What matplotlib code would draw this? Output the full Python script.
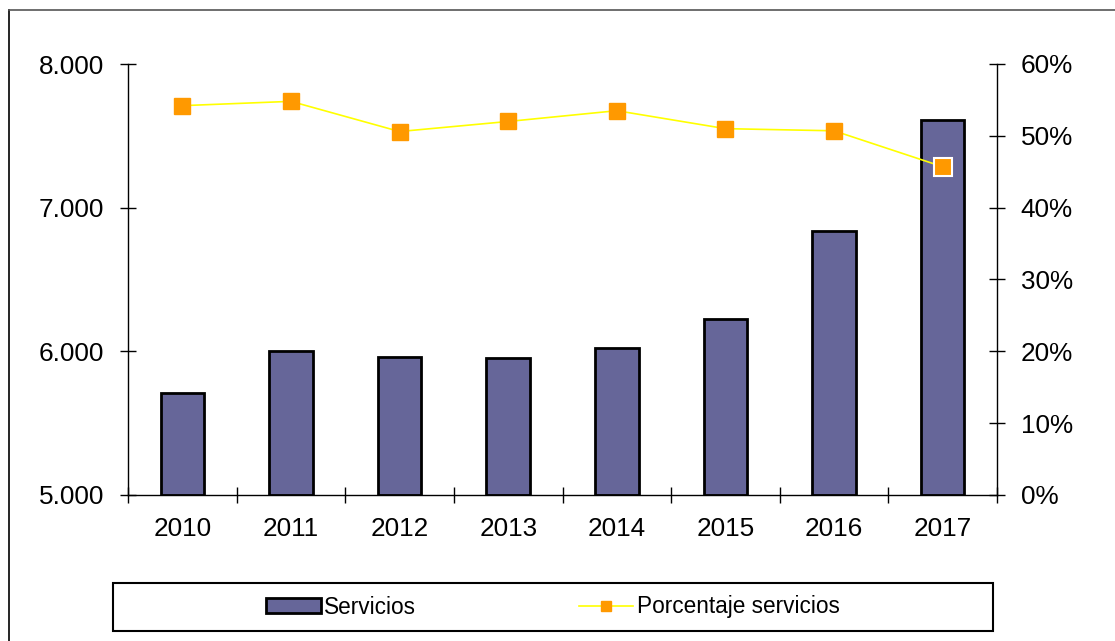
import matplotlib
matplotlib.use("Agg")
import matplotlib.pyplot as plt
from matplotlib.lines import Line2D
from matplotlib.patches import Rectangle, Patch
from matplotlib.ticker import FuncFormatter, FixedLocator

plt.rcParams['font.family'] = ['Liberation Sans', 'DejaVu Sans']

years = ['2010', '2011', '2012', '2013', '2014', '2015', '2016', '2017']
servicios = [5710, 6005, 5962, 5955, 6025, 6225, 6837, 7610]
porcentaje = [54.2, 54.8, 50.6, 52.0, 53.5, 51.0, 50.7, 45.7]

W, H = 1115, 641
fig = plt.figure(figsize=(W / 100, H / 100), dpi=100)

# outer frame (left + top only)
fig.add_artist(Line2D([9 / W, 9 / W], [0, 1 - 10 / H], color='black', lw=1.2))
fig.add_artist(Line2D([9 / W, 1], [1 - 10 / H, 1 - 10 / H], color='#555555', lw=1.2))

ax = fig.add_axes([128 / W, 1 - 495 / H, (997 - 128) / W, (495 - 64) / H])
x = list(range(len(years)))
ax.bar(x, [v - 5000 for v in servicios], bottom=5000, width=0.4,
       color='#666699', edgecolor='black', linewidth=2, zorder=2)
ax.set_xlim(-0.5, len(years) - 0.5)
ax.set_ylim(5000, 8000)
ax.set_yticks([5000, 6000, 7000, 8000])
ax.yaxis.set_major_formatter(FuncFormatter(lambda v, p: f"{int(v):,}".replace(',', '.')))
ax.set_xticks(x)
ax.set_xticklabels(years)
ax.xaxis.set_minor_locator(FixedLocator([i - 0.5 for i in range(len(years) + 1)]))
ax.tick_params(axis='x', which='major', length=0, pad=16, labelsize=18.8)
ax.tick_params(axis='x', which='minor', direction='inout', length=12, width=1)
ax.tick_params(axis='y', direction='inout', length=12, width=1, pad=11, labelsize=18.8)
for s in ['top', 'right']:
    ax.spines[s].set_visible(False)
for s in ['left', 'bottom']:
    ax.spines[s].set_linewidth(1)

ax2 = ax.twinx()
ax2.plot(x, porcentaje, color='#FFFF00', lw=1.2, marker='s', markersize=12,
         markerfacecolor='#FF9900', markeredgecolor='#FF9900', zorder=3)
ax2.plot([x[-1]], [porcentaje[-1]], linestyle='none', marker='s', markersize=13,
         markerfacecolor='#FF9900', markeredgecolor='white', markeredgewidth=1.5, zorder=4)
ax2.set_ylim(0, 60)
ax2.set_yticks(range(0, 61, 10))
ax2.yaxis.set_major_formatter(FuncFormatter(lambda v, p: f"{int(v)}%"))
ax2.tick_params(axis='y', direction='inout', length=12, width=1, pad=11, labelsize=18.8)
for s in ['top', 'left', 'bottom']:
    ax2.spines[s].set_visible(False)
ax2.spines['right'].set_linewidth(1)

# legend box
lx0, lx1, ly0, ly1 = 113, 993, 583, 631
fig.add_artist(Rectangle((lx0 / W, 1 - ly1 / H), (lx1 - lx0) / W, (ly1 - ly0) / H,
                         transform=fig.transFigure, fill=False, edgecolor='black', lw=1.5))
handles = [Patch(facecolor='#666699', edgecolor='black', linewidth=2),
           Line2D([], [], color='#FFFF00', lw=1.2, marker='s', markersize=7,
                  markerfacecolor='#FF9900', markeredgecolor='#FF9900')]
fig.legend(handles, ['Servicios', 'Porcentaje servicios'], loc='center',
           bbox_to_anchor=((lx0 + lx1) / 2 / W, 1 - (ly0 + ly1) / 2 / H),
           ncol=2, frameon=False, fontsize=16.3, handlelength=2.4, handleheight=0.6,
           handletextpad=0.15, columnspacing=7.2)

fig.savefig('out.png', dpi=100)
